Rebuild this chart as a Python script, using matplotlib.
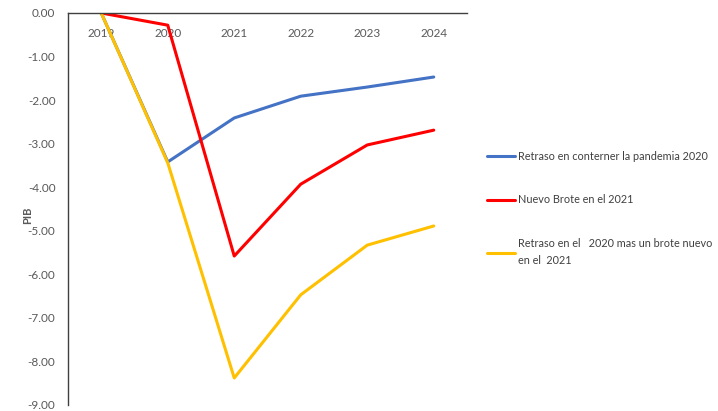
import matplotlib.pyplot as plt
import numpy as np

plt.rcParams['font.family'] = ['Lato', 'DejaVu Sans']

years = ['2019', '2020', '2021', '2022', '2023', '2024']
retraso = [0.0, -3.42, -2.41, -1.91, -1.70, -1.47]
brote = [0.0, -0.28, -5.58, -3.93, -3.03, -2.69]
ambos = [0.0, -3.44, -8.38, -6.47, -5.33, -4.89]

labels = ['Retraso en conterner la pandemia 2020',
          'Nuevo Brote en el 2021',
          'Retraso en el   2020 mas un brote nuevo\nen el  2021']
colors = ['#4472C4', '#FF0000', '#FFC000']
grey = '#595959'

fig = plt.figure(figsize=(7.18, 4.11), dpi=100)
ax = fig.add_axes([0.0947, 0.0146, 0.5557, 0.9538])

x = np.arange(len(years))
for s, lab, c in zip([retraso, brote, ambos], labels, colors):
    ax.plot(x, s, color=c, lw=2.2, label=lab, solid_capstyle='round')

ax.set_xlim(-0.5, len(years) - 0.5)
ax.set_ylim(-9, 0)
ax.set_yticks(np.arange(-9, 0.5, 1))
ax.set_yticklabels(['%.2f' % v for v in np.arange(-9, 0.5, 1)])
ax.set_xticks(x)
ax.set_xticklabels(years)
ax.spines['bottom'].set_position(('data', 0))
ax.spines['top'].set_visible(False)
ax.spines['right'].set_visible(False)
for sp in ['bottom', 'left']:
    ax.spines[sp].set_color('#404040')
    ax.spines[sp].set_linewidth(1.0)
ax.tick_params(axis='both', length=0, labelsize=8.5, colors=grey)
ax.tick_params(axis='x', pad=11)
ax.tick_params(axis='y', pad=9)
ax.set_ylabel('PIB', fontsize=8, color=grey, fontweight='bold')
ax.yaxis.set_label_coords(-0.088, 0.485)

leg = fig.legend(loc='upper left', bbox_to_anchor=(0.678, 0.633), frameon=False,
                 fontsize=7.8, labelspacing=3.0, handlelength=2.6, handletextpad=0.3,
                 borderpad=0, borderaxespad=0, labelcolor='#404040')
leg.get_texts()[2].set_linespacing(1.7)

fig.savefig('out.png', dpi=100)
